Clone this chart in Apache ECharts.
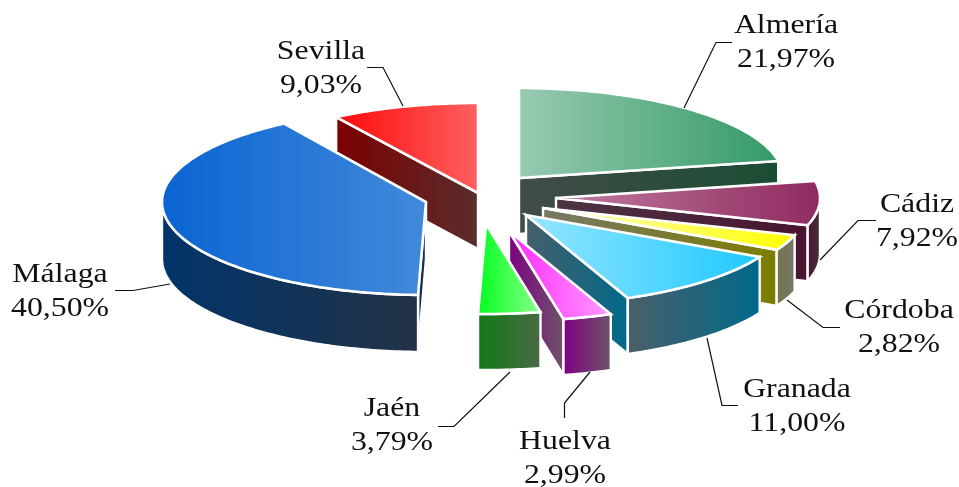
<!DOCTYPE html>
<html>
<head>
<meta charset="utf-8">
<style>html,body{margin:0;padding:0;background:#fff}#c{width:959px;height:487px}</style>
<script src="https://cdn.jsdelivr.net/npm/echarts@6/dist/echarts.min.js"></script>
</head>
<body>
<div id="c"></div>
<script>
const categories = ['Almería','Cádiz','Córdoba','Granada','Huelva','Jaén','Málaga','Sevilla'];
const shares = [21.97,7.92,2.82,11.00,2.99,3.79,40.50,9.03];

// Projection of the tilted pie (the slice nearest the viewer draws a little larger)
const radiusX = 264;
const radiusYBySlice = [90,90,90,90,90,90,93,90];
const thicknessBySlice = [56,56,56,56,56,56,57,56];
// Where each exploded slice's tip ends up
const sliceTips = [[519,178],[556,198],[543,208],[526,215],[509,231],[486,224],[426,202],[478,193]];
// Painter's order: back to front
const paintOrder = [7,0,1,2,3,4,5,6];

const topColors = [['#98cbb2','#339966'],['#c07ca0','#8f2a5f'],['#ffffd0','#ffff00'],['#96e6ff','#1ec8ff'],
  ['#ff28ff','#ff9cff'],['#00ff1e','#8cff8c'],['#0a64d2','#4289da'],['#ff0a0a','#ff6060']];
const wallColors = [['#434c48','#1a4d33'],['#4c3545','#4a1430'],['#78786a','#7d7d00'],['#465f69','#00698a'],
  ['#7d0082','#6e5569'],['#0f7a14','#4b6946'],['#002f66','#233246'],['#7d0000','#5a2d2d']];
const outerColors = [null,['#4a1430','#46323c'],['#74744e','#78786a'],['#4b5f69','#00698a'],
  ['#7d0082','#6e5569'],['#0f7a14','#4b6946'],['#00346a','#233246'],null];

const labelCentres = [[786,43],[917,222.5],[899,328.5],[797,407.5],[565,459.5],[392,426.5],[60,292.5],[321,69.5]];
const leaderPaths = [
  [[684,108],[716,42.5],[732,42.5]],
  [[820,260],[858,220.5],[876,220.5]],
  [[787,300],[823,327.5],[840,327.5]],
  [[707,338],[722,405.5],[738,405.5]],
  [[590,372],[564.5,403],[564.5,418]],
  [[510,372],[454,426.5],[438,426.5]],
  [[170,284],[133,290.5],[115,290.5]],
  [[403,106],[383,67.5],[367,67.5]]
];

const total = shares.reduce((a,b)=>a+b,0);
const startAngles = [];
shares.reduce((acc,v,i)=>{startAngles[i]=acc/total*360;return acc+v;},0);

function grad(c){return {type:'linear',x:0,y:0,x2:1,y2:0,colorStops:[{offset:0,color:c[0]},{offset:1,color:c[1]}]};}
function face(points,colors,lw){return {type:'polygon',shape:{points},style:{fill:grad(colors),stroke:'#fff',lineWidth:lw,lineJoin:'miter'}};}

function renderSlice(params,api){
  const i = paintOrder[params.dataIndex];
  const value = api.value(0);
  const a = startAngles[i], b = a + value/total*360;
  const tip = sliceTips[i], ry = radiusYBySlice[i], depth = thicknessBySlice[i];
  const rim = deg=>{const r=deg*Math.PI/180;return [tip[0]+radiusX*Math.sin(r),tip[1]-ry*Math.cos(r)];};
  const down = p=>[p[0],p[1]+depth];
  const arc = (s,e)=>{const pts=[];const n=Math.max(2,Math.ceil(e-s));for(let k=0;k<=n;k++)pts.push(rim(s+(e-s)*k/n));return pts;};
  const kids = [];
  if(Math.sin(a*Math.PI/180)<0){const e=rim(a);kids.push(face([tip,e,down(e),down(tip)],wallColors[i],2.4));}
  if(Math.sin(b*Math.PI/180)>0){const e=rim(b);kids.push(face([tip,e,down(e),down(tip)],wallColors[i],2.4));}
  const oa=Math.max(a,90), ob=Math.min(b,270);
  if(ob>oa && outerColors[i]){
    const up=arc(oa,ob);
    kids.push(face(up.concat(up.slice().reverse().map(down)),outerColors[i],2.4));
  }
  kids.push(face([tip].concat(arc(a,b)),topColors[i],2.6));
  return {type:'group',children:kids};
}

function renderLabel(params,api){
  const i = params.dataIndex;
  const pct = api.value(0).toFixed(2).replace('.',',')+'%';
  const c = labelCentres[i];
  return {type:'group',children:[
    {type:'polyline',shape:{points:leaderPaths[i]},style:{stroke:'#111',lineWidth:1.2,fill:null}},
    {type:'text',x:c[0],y:c[1],scaleX:1.2,style:{text:categories[i]+'\n'+pct,font:'26.5px "Liberation Serif"',fill:'#111',
      align:'center',verticalAlign:'middle',lineHeight:34}}
  ]};
}

const chart = echarts.init(document.getElementById('c'),null,{renderer:'canvas'});
chart.setOption({
  animation:false,
  backgroundColor:'#fff',
  series:[
    {type:'custom',coordinateSystem:'none',silent:true,renderItem:renderSlice,data:paintOrder.map(i=>[shares[i]])},
    {type:'custom',coordinateSystem:'none',silent:true,renderItem:renderLabel,data:shares.map(v=>[v])}
  ]
});
</script>
</body>
</html>
